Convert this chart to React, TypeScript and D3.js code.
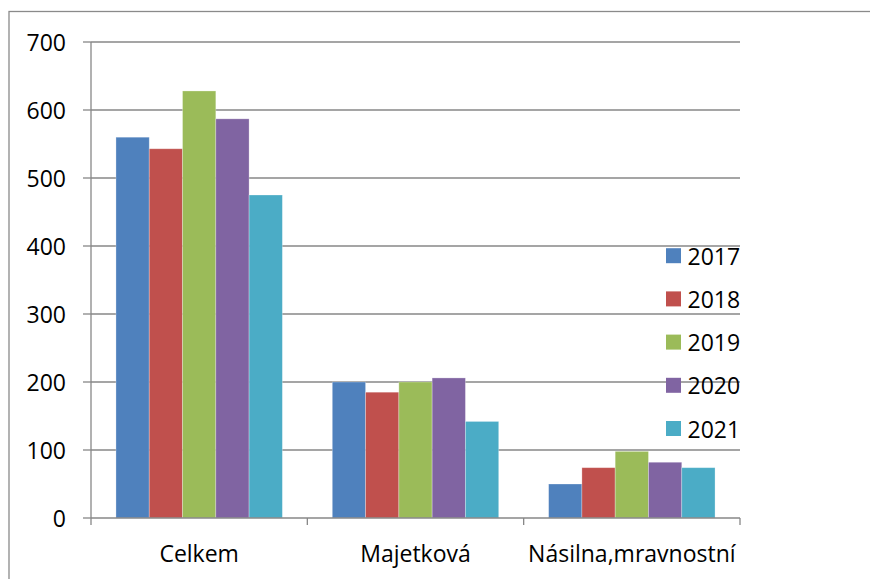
import React from "react";
import * as d3 from "d3";

const categories = ["Celkem", "Majetková", "Násilna,mravnostní"];
const years = ["2017", "2018", "2019", "2020", "2021"];
const v2017 = [560, 200, 50];
const v2018 = [543, 185, 74];
const v2019 = [628, 200, 98];
const v2020 = [587, 206, 82];
const v2021 = [475, 142, 74];
const yTicks = [0, 100, 200, 300, 400, 500, 600, 700];
const colors = ["#4F81BD", "#C0504D", "#9BBB59", "#8064A2", "#4BACC6"];

const series = [v2017, v2018, v2019, v2020, v2021];

const W = 870;
const H = 579;
const left = 91;
const right = 740;
const top = 42;
const bottom = 518;
const FONT = "'Open Sans', 'Noto Sans', sans-serif";
const FS = 23;
const GRID = "#878787";

export default function App() {
  const x0 = d3.scaleBand<string>().domain(categories).range([left, right]).paddingInner(0).paddingOuter(0);
  const bw = x0.bandwidth() / 6.5;
  const x1 = d3
    .scaleBand<string>()
    .domain(years)
    .range([bw * 0.75, x0.bandwidth() - bw * 0.75])
    .padding(0);
  const y = d3.scaleLinear().domain([0, 700]).range([bottom, top]);

  const legendY0 = 255.7;
  const legendStep = 43.2;

  return (
    <svg
      width={W}
      height={H}
      style={{ position: "absolute", left: 0, top: 0, background: "#fff" }}
    >
      <rect x={9} y={11.5} width={900} height={600} fill="#fff" stroke="#8a8a8a" strokeWidth={1.3} />
      {yTicks.map((t) => (
        <g key={t}>
          {t > 0 && (
            <line x1={left} x2={right} y1={y(t)} y2={y(t)} stroke={GRID} strokeWidth={1.3} />
          )}
          <line x1={83} x2={left} y1={y(t)} y2={y(t)} stroke={GRID} strokeWidth={1.3} />
          <text
            x={66}
            y={y(t)}
            textAnchor="end"
            dominantBaseline="central"
            fontFamily={FONT}
            fontSize={FS}
            fill="#000"
          >
            {t}
          </text>
        </g>
      ))}
      {categories.map((c, ci) => (
        <g key={c} transform={`translate(${x0(c)},0)`}>
          {series.map((s, si) => (
            <rect
              key={si}
              x={x1(years[si])}
              y={y(s[ci])}
              width={x1.bandwidth()}
              height={y(0) - y(s[ci])}
              fill={colors[si]}
              stroke="rgba(255,255,255,0.35)"
              strokeWidth={0.8}
            />
          ))}
        </g>
      ))}
      <line x1={left} x2={left} y1={top} y2={bottom} stroke={GRID} strokeWidth={1.3} />
      <line x1={left} x2={right} y1={bottom} y2={bottom} stroke={GRID} strokeWidth={1.3} />
      {[left, ...categories.map((c) => (x0(c) as number) + x0.bandwidth())].map((px, i) => (
        <line key={i} x1={px} x2={px} y1={bottom} y2={bottom + 7} stroke={GRID} strokeWidth={1.3} />
      ))}
      {categories.map((c) => (
        <text
          key={c}
          x={(x0(c) as number) + x0.bandwidth() / 2}
          y={553}
          textAnchor="middle"
          dominantBaseline="central"
          fontFamily={FONT}
          fontSize={FS}
          fill="#000"
        >
          {c}
        </text>
      ))}
      {years.map((yr, i) => (
        <g key={yr} transform={`translate(666,${legendY0 + i * legendStep})`}>
          <rect x={0} y={-7.5} width={15} height={15} fill={colors[i]} />
          <text
            x={21.5}
            y={0}
            dominantBaseline="central"
            fontFamily={FONT}
            fontSize={FS}
            fill="#000"
          >
            {yr}
          </text>
        </g>
      ))}
    </svg>
  );
}
